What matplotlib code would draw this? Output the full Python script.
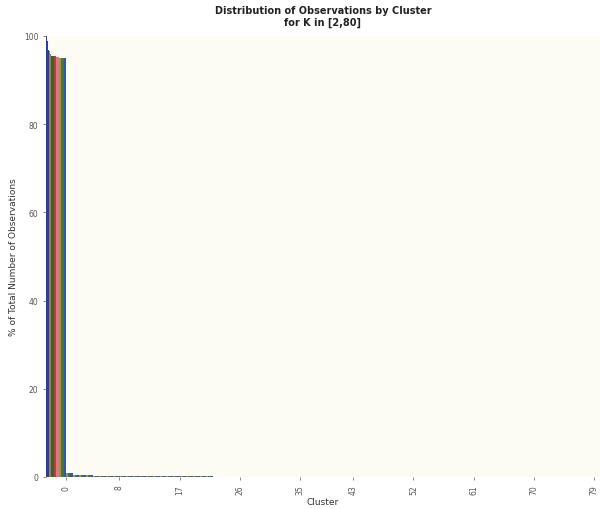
import matplotlib
matplotlib.use('Agg')
import matplotlib.pyplot as plt
import numpy as np

# number of clusters K, one bar series per K
k_values = list(range(2, 81))

# share of observations in the largest cluster for each K
top_share = [
    99.9, 99.9, 99.8, 99.7, 99.4, 98.8, 97.8, 97.2,
    97.0, 96.9, 96.9, 96.8, 96.7, 96.6, 96.5, 96.4, 96.2, 96.0, 95.8, 95.6,
    95.5, 95.5, 95.5, 95.5, 95.4, 95.4, 95.4, 95.4, 95.4, 95.4,
    95.4, 95.4, 95.4, 95.4, 95.4, 95.4, 95.4, 95.4, 95.4, 95.4,
    95.4, 95.3, 95.3, 95.3, 95.3, 95.3, 95.3, 95.3, 95.3, 95.2,
    95.1, 95.1, 95.1, 95.1, 95.1, 95.0, 95.0, 95.0, 95.0, 95.0,
    95.0, 95.0, 95.0, 95.0, 95.0, 95.0, 95.0, 95.0, 95.0, 95.0,
    95.0, 95.0, 95.0, 95.0, 95.0, 95.0, 95.0, 95.0, 95.0,
]

# shares of the remaining (small) clusters 1, 2, 3, ...
tail_share = [1.0, 0.5, 0.4, 0.35, 0.32, 0.3, 0.28, 0.26, 0.25, 0.24,
              0.22, 0.22, 0.2, 0.2, 0.2, 0.18, 0.18, 0.16, 0.16, 0.15,
              0.14, 0.12, 0.1]

x_ticks = [0, 8, 17, 26, 35, 43, 52, 61, 70, 79]
y_ticks = [0, 20, 40, 60, 80, 100]

# colour bands as they appear in the print
band_colors = ['#2b3bb8', '#8c8a34', '#4f5a2c', '#c23b3b',
               '#d8788a', '#9b9a36', '#3f7840', '#3050d0']

fig = plt.figure(figsize=(6, 5.1), dpi=100)
fig.patch.set_facecolor('white')
# axes: x=-2.97 at 46px, x=79 near 596px; y=0 at 478px, y=100 at 37px
ax = fig.add_axes([46 / 600, 32 / 510, 554 / 600, 441 / 510])
ax.set_facecolor('#fcfcf5')

n = len(k_values)
w = 3.0 / n
for i, k in enumerate(k_values):
    heights = [top_share[i]] + tail_share[:k - 1]
    pos = np.arange(len(heights)) - 2.97 + i * w
    color = band_colors[i * len(band_colors) // n]
    ax.bar(pos, heights, width=w, align='edge', color=color, linewidth=0)

ax.set_xlim(-2.97, 79.9)
ax.set_ylim(0, 100)
ax.set_xticks(x_ticks)
ax.set_xticklabels([str(t) for t in x_ticks], rotation=90, fontsize=5.5,
                   color='#555555')
ax.set_yticks(y_ticks)
ax.set_yticklabels([str(t) for t in y_ticks], fontsize=5.5, color='#555555')
ax.tick_params(length=2.5, width=0.6, color='#777777', pad=3)
for s in ax.spines.values():
    s.set_visible(False)

ax.set_xlabel('Cluster', fontsize=6.5, color='#333333', labelpad=2)
ax.set_ylabel('% of Total Number of Observations', fontsize=6.5,
              color='#333333')
ax.yaxis.set_label_coords(-0.05, 0.5)
ax.set_title('Distribution of Observations by Cluster\nfor K in [2,80]',
             fontsize=7, fontweight='bold', color='#222222', pad=8,
             linespacing=1.2)

fig.savefig('out.png', dpi=100)
